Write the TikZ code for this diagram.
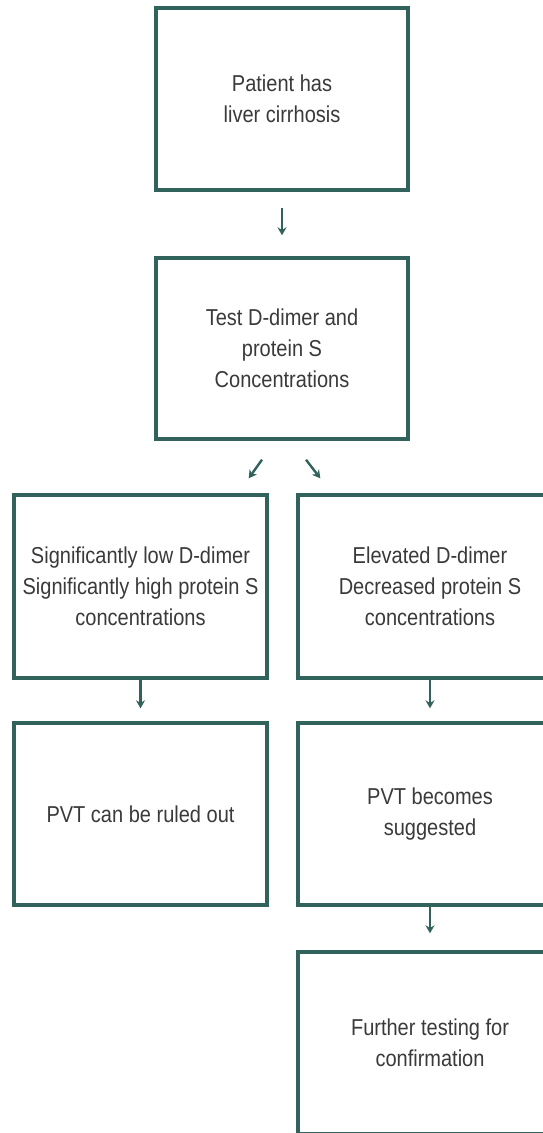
\documentclass[tikz,border=0pt]{standalone}
\usepackage{fontspec}
\setmainfont{Liberation Sans}[FakeStretch=0.87]
\usepackage{tikz}
\usetikzlibrary{arrows.meta}

\definecolor{boxline}{RGB}{50,98,92}
\definecolor{boxtext}{RGB}{58,58,58}

\begin{document}
\begin{tikzpicture}[x=1pt,y=-1pt,->,>={Stealth[length=8pt,width=9pt]},line width=2.4pt,draw=boxline]
    \tikzstyle{stage}=[rectangle,draw=boxline,line width=3.4pt,fill=white,text=boxtext,align=center,
        minimum height=182pt,inner sep=0pt,font=\fontsize{23}{31}\selectfont]
    \useasboundingbox (0,0) rectangle (542,1133);

    % Vertices
    \node[stage,minimum width=252pt] (cirrhosis) at (282,99) {Patient has\\liver cirrhosis};
    \node[stage,minimum width=252pt,minimum height=181pt] (test) at (282,348.5) {Test D-dimer and\\protein S\\Concentrations};
    \node[stage,minimum width=253pt,minimum height=183pt] (low) at (140.5,586.5) {Significantly low D-dimer\\Significantly high protein S\\concentrations};
    \node[stage,minimum width=264pt,minimum height=183pt] (high) at (430,586.5) {Elevated D-dimer\\Decreased protein S\\concentrations};
    \node[stage,minimum width=253pt] (ruledout) at (140.5,814) {PVT can be ruled out};
    \node[stage,minimum width=264pt] (suggested) at (430,814) {PVT becomes\\suggested};
    \node[stage,minimum width=264pt] (further) at (430,1043) {Further testing for\\confirmation};

    % Edges
    \path[draw=boxline]
        (cirrhosis) edge[shorten <=16pt,shorten >=21pt] node {} (test)
        (low) edge[shorten >=13pt] node {} (ruledout)
        (high) edge[shorten >=13pt] node {} (suggested)
        (suggested) edge[shorten >=17pt] node {} (further)
        ;
    \draw[draw=boxline] ([xshift=-20pt,yshift=-19pt]test.south) -- ([xshift=-20pt,yshift=15pt]low.north east);
    \draw[draw=boxline] ([xshift=24pt,yshift=-19pt]test.south) -- ([xshift=24pt,yshift=15pt]high.north west);
\end{tikzpicture}
\end{document}
